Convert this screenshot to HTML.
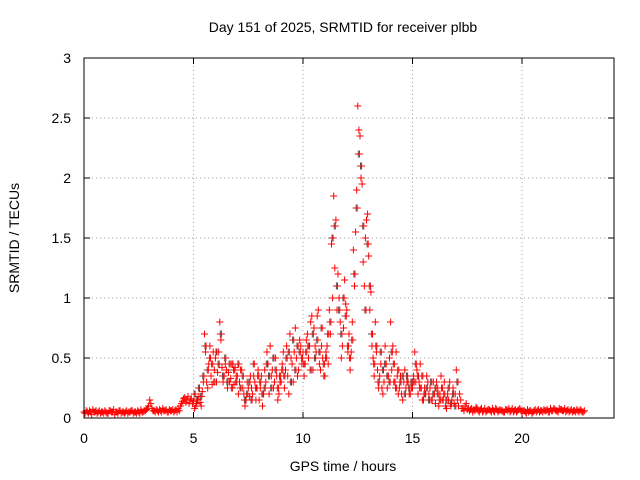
<!DOCTYPE html>
<html>
<head>
<meta charset="utf-8">
<style>
html,body{margin:0;padding:0;background:#fff;}
svg{display:block;font-family:"Liberation Sans",sans-serif;}
</style>
</head>
<body>
<svg id="chart" width="640" height="480" viewBox="0 0 640 480">
  <text x="343" y="32" font-size="14" text-anchor="middle" fill="#000">Day 151 of 2025, SRMTID for receiver plbb</text>
  <text x="343" y="471" font-size="14" text-anchor="middle" fill="#000">GPS time / hours</text>
  <text x="19" y="238" font-size="14" text-anchor="middle" fill="#000" transform="rotate(-90 19 238)">SRMTID / TECUs</text>
  <g id="grid"></g>
  <g id="ticks"></g>
  <g id="points"></g>
  <rect x="84" y="58" width="530" height="360" fill="none" stroke="#000" stroke-width="1"/>
</svg>
<script>
const xTicks = [0, 5, 10, 15, 20];
const yTicks = [0, 0.5, 1, 1.5, 2, 2.5, 3];
const yTickLabels = ["0", "0.5", "1", "1.5", "2", "2.5", "3"];
const tStep = 0.1;
const seriesA = [
.05,.06,.04,.05,.07,.05,.04,.06,.05,.04,
.05,.04,.06,.05,.03,.05,.06,.04,.05,.05,
.04,.05,.06,.05,.04,.05,.07,.05,.06,.08,
.15,.08,.06,.07,.05,.06,.08,.06,.05,.07,
.06,.05,.07,.08,.10,.14,.17,.15,.12,.16,
.14,.10,.15,.13,.22,.70,.30,.45,.35,.55,
.50,.38,.80,.42,.35,.40,.38,.33,.45,.42,
.35,.30,.40,.20,.15,.25,.35,.20,.30,.25,
.15,.35,.20,.30,.45,.60,.40,.30,.35,.20,
.30,.55,.40,.35,.70,.45,.55,.50,.40,.60,
.55,.45,.70,.60,.85,.75,.55,.90,.40,.50,
.35,.60,.90,1.45,1.85,1.65,1.20,.80,.60,1.15,
.90,.70,.55,1.40,1.55,2.60,2.35,1.95,1.10,1.65,
1.35,1.05,.50,.80,.40,.35,.25,.30,.45,.35,
.80,.60,.30,.35,.25,.20,.30,.25,.30,.20,
.25,.55,.40,.30,.25,.15,.20,.30,.25,.15,
.20,.30,.10,.35,.15,.10,.20,.30,.15,.12,
.40,.10,.15,.08,.10,.07,.06,.08,.07,.09,
.06,.07,.05,.08,.06,.07,.05,.06,.08,.05,
.07,.06,.05,.07,.08,.06,.05,.07,.06,.08,
.05,.06,.04,.05,.06,.05,.07,.06,.05,.06,
.07,.06,.05,.08,.06,.07,.06,.08,.07,.06,
.05,.07,.06,.05,.06,.07,.05,.06,.05];
const seriesB = [
.04,.05,.06,.03,.05,.06,.05,.04,.05,.06,
.04,.06,.05,.07,.05,.04,.06,.05,.04,.06,
.05,.06,.04,.05,.06,.04,.05,.06,.07,.10,
.12,.06,.05,.06,.07,.05,.06,.07,.05,.06,
.07,.06,.05,.06,.12,.16,.13,.18,.15,.12,
.08,.12,.18,.10,.30,.55,.25,.60,.28,.40,
.30,.55,.65,.30,.45,.25,.30,.45,.28,.35,
.20,.40,.25,.10,.30,.18,.25,.35,.15,.40,
.25,.10,.40,.55,.20,.35,.25,.50,.15,.30,
.45,.25,.60,.20,.50,.30,.75,.35,.65,.45,
.35,.65,.50,.80,.40,.60,.85,.45,.60,.35,
.55,.45,.70,1.00,1.25,.90,1.00,.50,.75,.95,
.55,.40,.80,1.10,1.90,2.40,2.00,1.30,1.50,1.70,
.90,.60,.35,.55,.25,.45,.20,.60,.25,.50,
.40,.30,.55,.20,.35,.15,.40,.30,.20,.25,
.35,.30,.20,.45,.15,.25,.35,.20,.15,.30,
.12,.25,.20,.15,.30,.08,.15,.10,.25,.20,
.15,.20,.08,.06,.12,.08,.07,.05,.06,.08,
.05,.08,.06,.05,.07,.06,.08,.05,.07,.06,
.06,.05,.07,.06,.05,.08,.06,.05,.07,.06,
.06,.05,.07,.06,.04,.06,.05,.07,.06,.05,
.06,.07,.05,.06,.08,.06,.05,.07,.06,.08,
.06,.05,.07,.06,.05,.06,.07,.05,.06];
const seriesCStart = 5.0;
const seriesC = [
.20,.15,.25,.18,.35,.60,.40,.50,.45,.30,
.55,.45,.70,.35,.50,.30,.45,.25,.40,.30,
.45,.25,.35,.15,.20,.30,.15,.45,.25,.35,
.30,.20,.25,.45,.35,.25,.50,.40,.25,.35,
.40,.35,.50,.55,.30,.65,.40,.60,.55,.50,
.45,.55,.60,.40,.70,.50,.65,.55,.75,.45,
.50,.70,.80,1.50,1.60,1.10,.90,.70,1.00,.85,
.60,.50,.65,1.20,1.75,2.20,2.10,1.60,.90,1.45,
1.10,.70,.45,.60,.30,.55,.40,.45,.35,.30,
.55,.45,.25,.40,.30,.35,.20,.35,.25,.30,
.30,.45,.35,.25,.35,.20,.25,.15,.30,.20,
.25,.20,.15,.25,.20,.15,.25,.12,.20,.10,
.30];

const X0 = 84, X1 = 614, Y0 = 418, Y1 = 58;
const XMAX = 24.2, YMAX = 3;
function xs(t){ return X0 + (X1 - X0) * t / XMAX; }
function ys(v){ return Y0 - (Y0 - Y1) * v / YMAX; }
const NS = "http://www.w3.org/2000/svg";
const grid = document.getElementById('grid');
const ticks = document.getElementById('ticks');
const pts = document.getElementById('points');

xTicks.forEach(t => {
  const x = xs(t);
  if (t > 0) {
    const g = document.createElementNS(NS, 'line');
    
    
    g.setAttribute('x1', x); g.setAttribute('x2', x);
    g.setAttribute('y1', Y1); g.setAttribute('y2', Y0);
    g.setAttribute('stroke', '#a0a0a0'); g.setAttribute('stroke-dasharray', '1,3');
    grid.appendChild(g);
  }
  const tk = document.createElementNS(NS, 'path');
  
  
  tk.setAttribute('d', `M${x},${Y0}v-6M${x},${Y1}v6`);
  tk.setAttribute('stroke', '#000');
  ticks.appendChild(tk);
  const lb = document.createElementNS(NS, 'text');
  
  
  lb.setAttribute('x', x); lb.setAttribute('y', 443);
  lb.setAttribute('font-size', '14'); lb.setAttribute('text-anchor', 'middle');
  lb.textContent = String(t);
  ticks.appendChild(lb);
});
yTicks.forEach((v, i) => {
  const y = ys(v);
  if (v > 0 && v < YMAX) {
    const g = document.createElementNS(NS, 'line');
    
    
    g.setAttribute('x1', X0); g.setAttribute('x2', X1);
    g.setAttribute('y1', y); g.setAttribute('y2', y);
    g.setAttribute('stroke', '#a0a0a0'); g.setAttribute('stroke-dasharray', '1,3');
    grid.appendChild(g);
  }
  const tk = document.createElementNS(NS, 'path');
  
  
  tk.setAttribute('d', `M${X0},${y}h6M${X1},${y}h-6`);
  tk.setAttribute('stroke', '#000');
  ticks.appendChild(tk);
  const lb = document.createElementNS(NS, 'text');
  
  
  lb.setAttribute('x', 71); lb.setAttribute('y', y + 5);
  lb.setAttribute('font-size', '14'); lb.setAttribute('text-anchor', 'end');
  lb.textContent = yTickLabels[i];
  ticks.appendChild(lb);
});

function drawSeries(arr, offset, color, name) {
  let d = '';
  arr.forEach((v, i) => {
    const x = xs(i * tStep + offset), y = ys(v);
    d += `M${(x-3.5).toFixed(1)},${y.toFixed(1)}h7M${x.toFixed(1)},${(y-3.5).toFixed(1)}v7`;
  });
  const p = document.createElementNS(NS, 'path');
  
  
  p.setAttribute('d', d);
  p.setAttribute('stroke', color);
  p.setAttribute('stroke-width', '1');
  p.setAttribute('fill', 'none');
  pts.appendChild(p);
}
drawSeries(seriesC, seriesCStart + 0.025, '#555555', 'srmtid-series-c');
drawSeries(seriesB, 0.05, '#ff0000', 'srmtid-series-b');
drawSeries(seriesA, 0, '#ff0000', 'srmtid-series-a');
drawSeries(seriesC, seriesCStart + 0.075, '#ff0000', 'srmtid-series-c-red');
</script>
</body>
</html>
